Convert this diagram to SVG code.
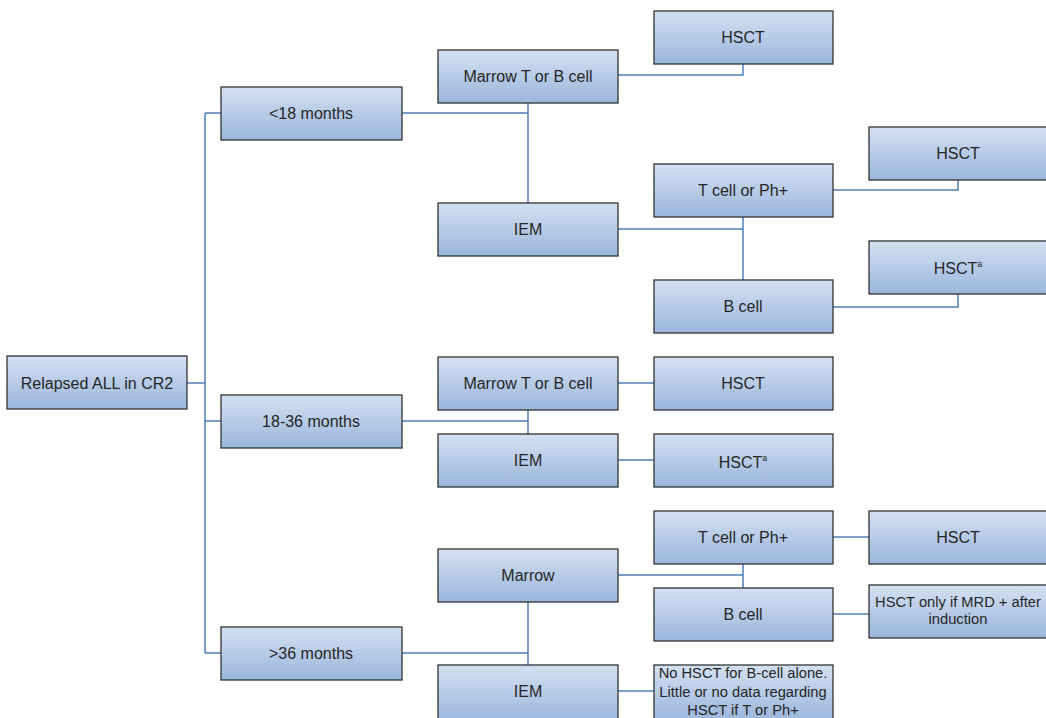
<svg xmlns="http://www.w3.org/2000/svg" width="1046" height="718" viewBox="0 0 1046 718">
  <defs>
    <linearGradient id="boxFill" x1="0" y1="0" x2="0" y2="1">
      <stop offset="0" stop-color="#d4e1f2"/>
      <stop offset="1" stop-color="#9bb5dc"/>
    </linearGradient>
    <style>
      .box { fill: url(#boxFill); stroke: #333; stroke-width: 1.3; }
      .lbl { font-family: "Liberation Sans", Arial, sans-serif; font-size: 16px; fill: #262626; text-anchor: middle; dominant-baseline: central; }
      .sm { font-size: 14.7px; }
      .sup { font-size: 9px; }
      .wire { fill: none; stroke: #4f7fba; stroke-width: 1.5; }
    </style>
  </defs>
  <rect width="1046" height="718" fill="#ffffff"/>

  <!-- connectors -->
  <g id="connectors">
    <path class="wire" d="M187,383 H205 M205,113 V653 M205,113 H221 M205,421 H221 M205,653 H221"/>
    <path class="wire" d="M402,113 H528 M528,103 V203"/>
    <path class="wire" d="M618,75 H743 V64"/>
    <path class="wire" d="M618,229 H743 M743,217 V280"/>
    <path class="wire" d="M833,190 H958 V180"/>
    <path class="wire" d="M833,307 H958 V294"/>
    <path class="wire" d="M402,421 H528 M528,410 V434"/>
    <path class="wire" d="M618,383 H654"/>
    <path class="wire" d="M618,460 H654"/>
    <path class="wire" d="M402,653 H528 M528,602 V665"/>
    <path class="wire" d="M618,575 H743 M743,564 V588"/>
    <path class="wire" d="M833,537 H869"/>
    <path class="wire" d="M833,614 H869"/>
    <path class="wire" d="M618,691 H654"/>
  </g>

  <!-- root -->
  <g id="root">
    <rect class="box" x="7" y="356" width="180" height="53"/>
    <text class="lbl" x="97" y="383">Relapsed ALL in CR2</text>
  </g>

  <!-- time-to-relapse branches -->
  <g id="lt18">
    <rect class="box" x="221" y="87" width="181" height="53"/>
    <text class="lbl" x="311" y="113">&lt;18 months</text>
  </g>
  <g id="m18to36">
    <rect class="box" x="221" y="395" width="181" height="53"/>
    <text class="lbl" x="311" y="421">18-36 months</text>
  </g>
  <g id="gt36">
    <rect class="box" x="221" y="627" width="181" height="53"/>
    <text class="lbl" x="311" y="653">&gt;36 months</text>
  </g>

  <!-- <18 months -->
  <g id="lt18-marrow">
    <rect class="box" x="438" y="50" width="180" height="53"/>
    <text class="lbl" x="528" y="76">Marrow T or B cell</text>
  </g>
  <g id="lt18-marrow-hsct">
    <rect class="box" x="654" y="11" width="179" height="53"/>
    <text class="lbl" x="743" y="37">HSCT</text>
  </g>
  <g id="lt18-iem">
    <rect class="box" x="438" y="203" width="180" height="53"/>
    <text class="lbl" x="528" y="229">IEM</text>
  </g>
  <g id="lt18-iem-t">
    <rect class="box" x="654" y="164" width="179" height="53"/>
    <text class="lbl" x="743" y="190">T cell or Ph+</text>
  </g>
  <g id="lt18-iem-t-hsct">
    <rect class="box" x="869" y="127" width="180" height="53"/>
    <text class="lbl" x="958" y="153">HSCT</text>
  </g>
  <g id="lt18-iem-b">
    <rect class="box" x="654" y="280" width="179" height="53"/>
    <text class="lbl" x="743" y="306">B cell</text>
  </g>
  <g id="lt18-iem-b-hsct">
    <rect class="box" x="869" y="241" width="180" height="53"/>
    <text class="lbl" x="958" y="268">HSCT<tspan class="sup" dy="-4">a</tspan></text>
  </g>

  <!-- 18-36 months -->
  <g id="mid-marrow">
    <rect class="box" x="438" y="357" width="180" height="53"/>
    <text class="lbl" x="528" y="383">Marrow T or B cell</text>
  </g>
  <g id="mid-marrow-hsct">
    <rect class="box" x="654" y="357" width="179" height="53"/>
    <text class="lbl" x="743" y="383">HSCT</text>
  </g>
  <g id="mid-iem">
    <rect class="box" x="438" y="434" width="180" height="53"/>
    <text class="lbl" x="528" y="460">IEM</text>
  </g>
  <g id="mid-iem-hsct">
    <rect class="box" x="654" y="434" width="179" height="53"/>
    <text class="lbl" x="743" y="462">HSCT<tspan class="sup" dy="-4">a</tspan></text>
  </g>

  <!-- >36 months -->
  <g id="late-marrow">
    <rect class="box" x="438" y="549" width="180" height="53"/>
    <text class="lbl" x="528" y="575">Marrow</text>
  </g>
  <g id="late-marrow-t">
    <rect class="box" x="654" y="511" width="179" height="53"/>
    <text class="lbl" x="743" y="537">T cell or Ph+</text>
  </g>
  <g id="late-marrow-t-hsct">
    <rect class="box" x="869" y="511" width="180" height="53"/>
    <text class="lbl" x="958" y="537">HSCT</text>
  </g>
  <g id="late-marrow-b">
    <rect class="box" x="654" y="588" width="179" height="53"/>
    <text class="lbl" x="743" y="614">B cell</text>
  </g>
  <g id="late-marrow-b-hsct">
    <rect class="box" x="869" y="585" width="180" height="53"/>
    <text class="lbl sm" x="958" y="602">HSCT only if MRD + after</text>
    <text class="lbl sm" x="958" y="619">induction</text>
  </g>
  <g id="late-iem">
    <rect class="box" x="438" y="665" width="180" height="56"/>
    <text class="lbl" x="528" y="691">IEM</text>
  </g>
  <g id="late-iem-note">
    <rect class="box" x="654" y="665" width="179" height="56"/>
    <text class="lbl sm" x="743" y="673">No HSCT for B-cell alone.</text>
    <text class="lbl sm" x="743" y="692">Little or no data regarding</text>
    <text class="lbl sm" x="743" y="710">HSCT if T or Ph+</text>
  </g>
</svg>
